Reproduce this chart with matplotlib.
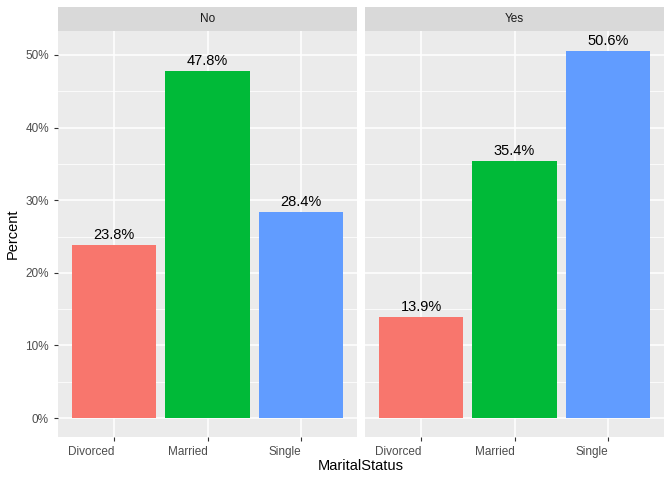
import matplotlib
matplotlib.use('Agg')
import matplotlib.pyplot as plt
import numpy as np

# ── Data ──────────────────────────────────────────────────────────────
facets     = ['No', 'Yes']
categories = ['Divorced', 'Married', 'Single']
pct_no     = [23.8, 47.8, 28.4]
pct_yes    = [13.9, 35.4, 50.6]
values     = [pct_no, pct_yes]
yticks     = [0, 10, 20, 30, 40, 50]

# ── Style (ggplot2 grey theme) ────────────────────────────────────────
COLORS = ['#F8766D', '#00BA38', '#619CFF']
PANEL  = '#EBEBEB'
STRIP  = '#D9D9D9'
TXT    = '#4D4D4D'

plt.rcParams['font.family'] = ['Liberation Sans', 'DejaVu Sans']

fig = plt.figure(figsize=(6.72, 4.8), dpi=100, facecolor='white')
W, H = 672, 480
panels = [(58, 357), (365, 664)]
top_px, bot_px, strip_px = 31, 437, 24

x = np.arange(1, len(categories) + 1)
for i, (name, vals) in enumerate(zip(facets, values)):
    l, r = panels[i]
    ax = fig.add_axes([l / W, 1 - bot_px / H, (r - l) / W, (bot_px - top_px) / H])
    ax.set_facecolor(PANEL)
    for s in ax.spines.values():
        s.set_visible(False)
    ax.set_axisbelow(True)

    ax.bar(x, vals, width=0.9, color=COLORS, zorder=3)
    for xi, v in zip(x, vals):
        ax.text(xi, v + 0.4, f'{v:.1f}%', ha='center', va='bottom',
                fontsize=10.5, color='black', zorder=4)

    ax.set_xlim(0.4, 3.6)
    ax.set_ylim(-2.6, 53.3)
    ax.set_xticks(x)
    ax.set_xticklabels(categories, ha='right')
    ax.set_yticks(yticks)
    ax.set_yticks([5, 15, 25, 35, 45], minor=True)
    ax.grid(which='major', color='white', linewidth=1.1)
    ax.grid(which='minor', axis='y', color='white', linewidth=0.55)
    ax.tick_params(which='major', colors='#333333', labelcolor=TXT,
                   labelsize=8.5, length=3, width=0.8)
    ax.tick_params(which='minor', length=0)
    if i == 0:
        ax.set_yticklabels([f'{t}%' for t in yticks])
        ax.set_ylabel('Percent', fontsize=10.5, color='black', labelpad=4)
    else:
        ax.tick_params(axis='y', which='major', length=0, labelleft=False)

    # facet strip
    sax = fig.add_axes([l / W, 1 - top_px / H, (r - l) / W, strip_px / H])
    sax.set_facecolor(STRIP)
    sax.set_xticks([])
    sax.set_yticks([])
    for s in sax.spines.values():
        s.set_visible(False)
    sax.text(0.5, 0.5, name, ha='center', va='center', fontsize=8.5,
             color='#1A1A1A', transform=sax.transAxes)

fig.text((58 + 664) / 2 / W, 1 - 466 / H, 'MaritalStatus', ha='center',
         va='center', fontsize=10.5, color='black')

plt.savefig('out.png', dpi=100, facecolor='white')
